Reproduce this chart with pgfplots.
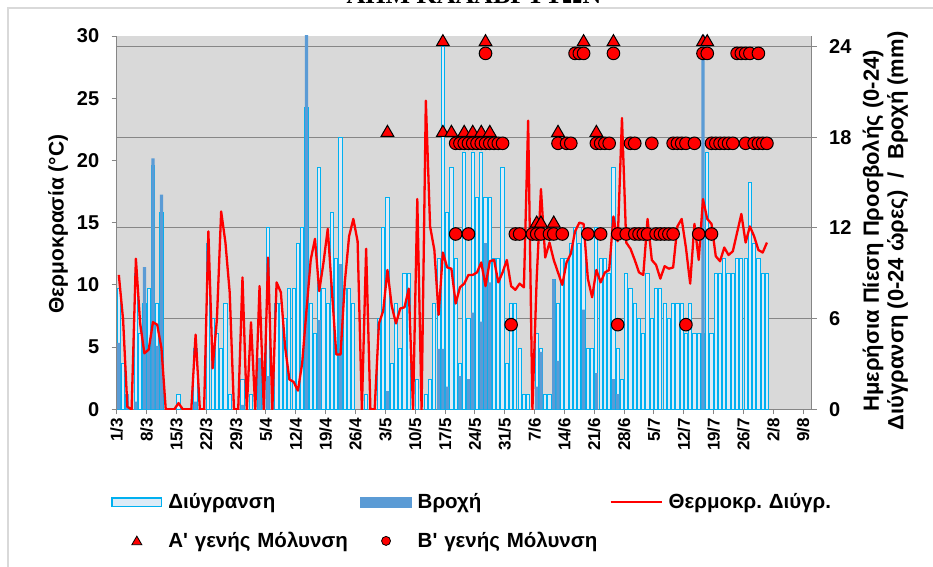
\documentclass[border=0pt]{standalone}
\usepackage{fontspec}
\setmainfont{Liberation Sans}
\newfontfamily\plainsans{Liberation Sans}
\newfontfamily\titlefont{Liberation Serif}
\usepackage{pgfplots}
\usepackage{pgfplotstable}
\pgfplotsset{compat=1.18}
\definecolor{plotbg}{HTML}{D9D9D9}
\definecolor{gridc}{HTML}{868686}
\definecolor{framec}{HTML}{D9D9D9}
\definecolor{dcyan}{HTML}{00B0F0}
\definecolor{dfill}{HTML}{DDEBF7}
\definecolor{rain}{HTML}{5B9BD5}
\definecolor{tred}{HTML}{FF0000}

\pgfplotstableread{
d D R T
0 8 4.4 10.8
1 3 0 7.2
2 1 1 0.2
3 0 0 0
4 9 0.5 12.1
5 5 0 6.9
6 7 9.4 4.5
7 8 4 4.8
8 16.1 16.6 7.0
9 7 4.2 6.8
10 13 14.2 4.9
11 0 0 0
12 0 0 0
13 0 0 0
14 1 0 0.5
15 0 0 0
16 0 0 0
17 0 0 0
18 4 0.5 6.0
19 0 0 0
20 0 0 0
21 11 0 14.3
22 6 0 3.3
23 5 0 7.2
24 4 0 15.9
25 7 0 13.4
26 1 0 9.4
27 0 0 0
28 0 0 0
29 2 0.3 10.6
30 0 0 0
31 1 0 7.0
32 0 0 0
33 6 3.4 9.9
34 0 2.2 0
35 12 2.2 12.2
36 0 1.7 0
37 7 0 10.2
38 7 0 9.4
39 6 0 5.0
40 8 0 2.4
41 8 0 2.2
42 11 0 1.5
43 12 0 3.7
44 20 32 7.9
45 7 0 12.0
46 5 0 13.7
47 16 5.9 9.5
48 8 0 11.8
49 7 0 14.5
50 13 0 9.4
51 10 0 4.4
52 18 9.6 4.4
53 8 0 10.2
54 8 0 13.9
55 7 0 15.3
56 0 0 13.5
57 0 0 0
58 1 0 12.9
59 0 0 0
60 0 0 0
61 6 0 6.9
62 12 0 7.9
63 14 1.2 11.2
64 3 0 8.3
65 7 0 6.9
66 4 0 8.1
67 9 0 8.2
68 9 0 9.7
69 0 0 0
70 2 0 16.9
71 0 0 0
72 1 0 24.8
73 2 0 14.7
74 7 0 12.8
75 10 4 7.6
76 24 4 12.6
77 13 1.5 11.4
78 16 0 11.3
79 10 0 8.5
80 3 2.2 9.8
81 17 0 10.1
82 6 2 10.8
83 17 6.4 10.8
84 14 0 11.0
85 17 5.8 11.8
86 14 11 9.9
87 14 8.4 11.9
88 10 0 12.0
89 10 0 10.2
90 16 0 11.0
91 3 0 12.0
92 7 0 9.9
93 7 0 9.6
94 4 0 10.1
95 1 0 9.8
96 1 0 23.2
97 0 0 0
98 5 1.5 10.5
99 4 3.8 17.7
100 1 0 12.2
101 1 0 13.4
102 8.6 8.6 12.0
103 7 3.2 11.0
104 10 0 10.0
105 10 0 11.8
106 11 0 12.5
107 12 0 14.3
108 11 0 15.0
109 12 6.6 14.9
110 4 0 10.5
111 4 0 9.0
112 12 2.4 11.2
113 10 0 10.2
114 10 0 11.0
115 9 0 11.2
116 16 2 15.5
117 4 1 13.5
118 2 0 23.4
119 9 0 13.4
120 8 0 12.9
121 7 0 12.0
122 6 0 11.0
123 5 0 10.8
124 9 0 15.3
125 6 0 12.0
126 8 0 11.6
127 8 0 10.5
128 7 0 11.5
129 6 0 11.3
130 7 0 11.4
131 7 0 14.7
132 7 0 15.3
133 5 0 13.0
134 7 0 10.1
135 5 0 14.9
136 5 0 12.0
137 5 30 16.9
138 17 0 15.3
139 5 0 14.9
140 9 0 12.3
141 9 0 11.9
142 10 0 13.0
143 9 0 12.4
144 9 0 12.7
145 10 0 14.2
146 10 0 15.7
147 10 0 13.4
148 15 0 14.7
149 11 0 13.9
150 10 0 12.8
151 9 0 12.6
152 9 0 13.4
}\data

\begin{document}
\begin{tikzpicture}[x=1pt,y=1pt]
\useasboundingbox (0,0) rectangle (933,566);
\draw[framec, line width=1.3pt] (8,-5) -- (8,558) -- (945,558);
\node[font=\titlefont\bfseries\fontsize{26}{30}\selectfont, anchor=base] at (474,562.3) {ΑΠΜ ΚΑΛΑΒΡΥΤΩΝ};

% axis 1: background, grid, bars, right axis, x axis
\begin{axis}[
  at={(116.7pt,156.7pt)}, anchor=south west,
  width=695pt, height=373.3pt, scale only axis,
  xmin=-0.5, xmax=162.5, ymin=0, ymax=24.7,
  axis background/.style={fill=plotbg},
  axis y line*=right, axis x line*=bottom,
  axis line style={gridc, line width=1pt, -},
  ytick={0,6,12,18,24}, ymajorgrids,
  grid style={gridc, line width=1pt},
  xtick={-0.5,6.5,...,160.5},
  xticklabels={1/3,8/3,15/3,22/3,29/3,5/4,12/4,19/4,26/4,3/5,10/5,17/5,24/5,31/5,7/6,14/6,21/6,28/6,5/7,12/7,19/7,26/7,2/8,9/8},
  tick align=outside, major tick length=5pt,
  tick style={gridc, line width=1pt},
  /pgf/number format/assume math mode=true,
  xticklabel style={rotate=90, anchor=east, font=\bfseries\fontsize{17}{19}\selectfont},
  yticklabel style={xshift=9pt, font=\bfseries\fontsize{20}{22}\selectfont},
  every axis y label/.style={at={(axis description cs:1.1055,0.478)}, rotate=90, anchor=center, align=center, font=\bfseries\fontsize{22}{24.5}\selectfont},
  ylabel={Ημερήσια Πίεση Προσβολής (0-24)\\Διύγρανση (0-24 ώρες) \ / \ Βροχή (mm)},
  unbounded coords=discard,
]
\addplot[ybar, bar width=3.2pt, bar shift=0pt, fill=dfill, draw=dcyan, line width=1pt,
  y filter/.expression={y<=0 ? nan : y}] table[x=d, y=D] {\data};
\addplot[ybar, bar width=3.2pt, bar shift=0pt, fill=rain, draw=none,
  y filter/.expression={y<=0 ? nan : y}] table[x=d, y=R] {\data};
\end{axis}

% axis 2: temperature on left axis
\begin{axis}[
  at={(116.7pt,156.7pt)}, anchor=south west,
  width=695pt, height=373.3pt, scale only axis,
  xmin=-0.5, xmax=162.5, ymin=0, ymax=30,
  axis y line*=left, axis x line=none,
  axis line style={gridc, line width=1pt, -},
  ytick={0,5,...,30},
  tick align=outside, major tick length=5pt,
  tick style={gridc, line width=1pt},
  /pgf/number format/assume math mode=true,
  yticklabel style={xshift=-9pt, font=\bfseries\fontsize{20}{22}\selectfont},
  every axis y label/.style={at={(axis description cs:-0.0845,0.496)}, rotate=90, anchor=center, font=\bfseries\fontsize{21}{23}\selectfont},
  ylabel={Θερμοκρασία (°C)},
]
\addplot[tred, line width=2.3pt, line join=round, no marks] table[x=d, y=T] {\data};
\end{axis}

% axis 3: infection markers + legend
\begin{axis}[
  at={(116.7pt,156.7pt)}, anchor=south west,
  width=695pt, height=373.3pt, scale only axis,
  xmin=-0.5, xmax=162.5, ymin=0, ymax=24.7,
  hide axis, clip=false,
  legend columns=3,
  legend cell align=left,
  legend style={at={(axis description cs:-0.008,-0.226)}, anchor=north west,
    draw=none, fill=none, inner sep=0pt, column sep=6pt, row sep=22pt,
    nodes={inner sep=0pt, text width=186pt, align=left},
    font=\plainsans\bfseries\fontsize{20.5}{23}\selectfont},
]
\addlegendimage{legend image code/.code={\draw[fill=dfill, draw=dcyan, line width=1.6pt] (0.8pt,-4.2pt) rectangle (50.2pt,4.2pt);}}
\addlegendentry{Διύγρανση}
\addlegendimage{legend image code/.code={\fill[rain] (0pt,-5pt) rectangle (51pt,5pt);}}
\addlegendentry{Βροχή}
\addlegendimage{legend image code/.code={\draw[tred, line width=2pt] (0pt,0pt) -- (51pt,0pt);}}
\addlegendentry{Θερμοκρ.\ Διύγρ.}
\addplot[only marks, mark=triangle*, mark size=7.4pt, mark options={fill=tred, draw=black, line width=1pt},
  legend image code/.code={\filldraw[fill=tred, draw=black, line width=0.8pt] (20.5pt,-3.8pt) -- (30.5pt,-3.8pt) -- (25.5pt,4.8pt) -- cycle;}]
coordinates {
(76,24.3) (86,24.3) (109,24.3) (116,24.3) (137,24.3) (138,24.3)
(63,18.3) (76,18.3) (78,18.3) (81,18.3) (83,18.3) (85,18.3) (87,18.3) (103,18.3) (112,18.3)
(98,12.3) (99,12.3) (102,12.3)
};
\addlegendentry{Α' γενής Μόλυνση}
\addplot[only marks, mark=*, mark size=6.3pt, mark options={fill=tred, draw=black, line width=1pt},
  legend image code/.code={\filldraw[fill=tred, draw=black, line width=0.8pt] (25.5pt,0pt) circle (4.5pt);}]
coordinates {
(86,23.55) (107,23.55) (108,23.55) (109,23.55) (116,23.55) (137,23.55) (138,23.55)
(145,23.55) (146,23.55) (147,23.55) (148,23.55) (150,23.55)
(79,17.6) (80,17.6) (81,17.6) (82,17.6) (83,17.6) (84,17.6) (85,17.6) (86,17.6) (87,17.6) (88,17.6) (89,17.6) (90,17.6)
(103,17.6) (105,17.6) (106,17.6) (112,17.6) (113,17.6) (114,17.6) (115,17.6)
(120,17.6) (121,17.6) (125,17.6) (130,17.6) (131,17.6) (132,17.6) (133,17.6) (135,17.6)
(139,17.6) (140,17.6) (141,17.6) (142,17.6) (143,17.6) (144,17.6) (147,17.6) (149,17.6) (150,17.6) (151,17.6) (152,17.6)
(79,11.6) (82,11.6) (93,11.6) (94,11.6) (97,11.6) (98,11.6) (99,11.6) (101,11.6) (102,11.6) (104,11.6)
(110,11.6) (113,11.6) (117,11.6) (119,11.6) (121,11.6) (122,11.6) (123,11.6) (124,11.6)
(126,11.6) (127,11.6) (128,11.6) (129,11.6) (130,11.6) (136,11.6) (139,11.6)
(92,5.6) (117,5.6) (133,5.6)
};
\addlegendentry{Β' γενής Μόλυνση}
\end{axis}
\end{tikzpicture}
\end{document}
